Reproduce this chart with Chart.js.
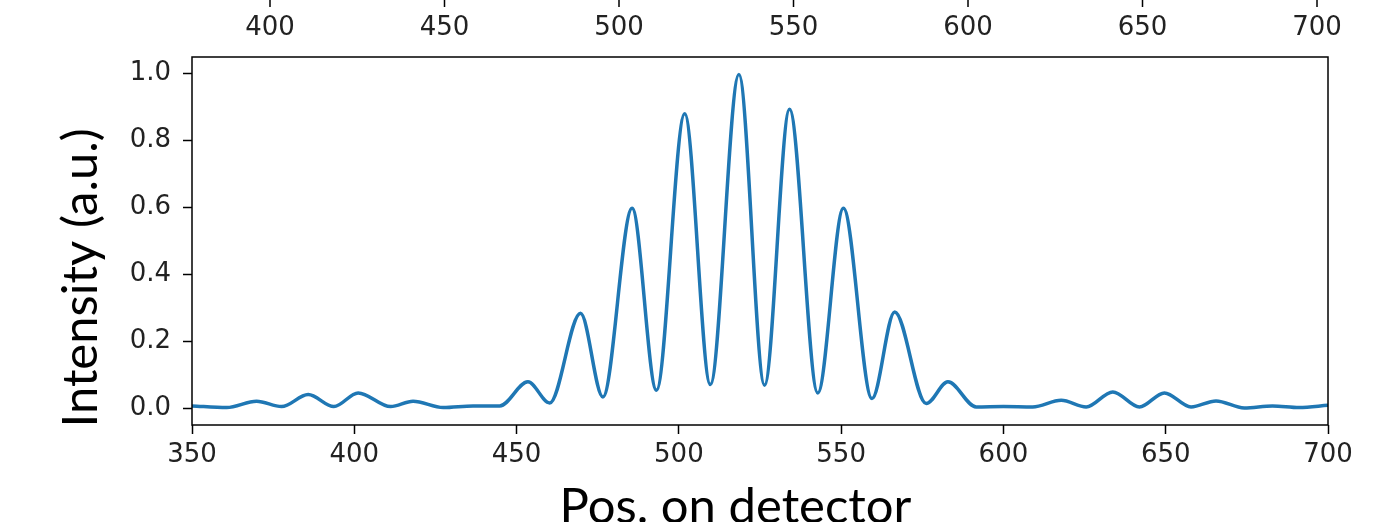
<!DOCTYPE html>
<html>
<head>
<meta charset="utf-8">
<script src="https://cdn.jsdelivr.net/npm/chart.js@4/dist/chart.umd.min.js"></script>
<style>
  html, body { margin: 0; padding: 0; background: #fff; overflow: hidden; }
  canvas { display: block; }
</style>
</head>
<body>
<canvas id="detectorChart" width="1400" height="545"></canvas>
<script>
// Positions on the detector and the intensity read at each (peaks, minima, flat parts)
const positions = [
    350, 360.7, 369.9, 377.6, 385.8, 393.7, 401.2, 411.2, 418.1, 427.4,
    436.6, 444.8, 453.5, 460.2, 469.7, 476.6, 485.6, 493.1, 501.8, 509.7,
    518.5, 526.4, 534.1, 542.8, 550.7, 559.5, 566.5, 576.2, 582.9, 591.6,
    600, 609, 617.8, 625.5, 633.7, 641.9, 649.6, 657.8, 665.5, 674.2,
    682.9, 691.1, 700
];
const intensity = [
    0.007, 0.002, 0.021, 0.005, 0.041, 0.005, 0.046, 0.005, 0.021, 0.002,
    0.007, 0.007, 0.079, 0.016, 0.284, 0.034, 0.598, 0.054, 0.880, 0.071,
    0.998, 0.069, 0.894, 0.046, 0.598, 0.029, 0.288, 0.014, 0.079, 0.004,
    0.005, 0.004, 0.024, 0.004, 0.049, 0.004, 0.046, 0.004, 0.022, 0.001,
    0.007, 0.002, 0.009
];

// Tick labels
const xTickValues = [350, 400, 450, 500, 550, 600, 650, 700];
const yTickValues = [0, 0.2, 0.4, 0.6, 0.8, 1.0];
const topTickValues = [400, 450, 500, 550, 600, 650, 700];

const CANVAS_H = 545;
const tickFont = { family: "'DejaVu Sans'", size: 26 };
const titleFont = { family: "Lato", size: 49 };

/**
 * Frame around the plot area
 */
const frame = {
    id: 'frame',
    afterDraw(chart) {
        const { ctx, chartArea: a } = chart;
        ctx.save();
        ctx.strokeStyle = '#000';
        ctx.lineWidth = 1.5;
        ctx.strokeRect(a.left, a.top, a.right - a.left, a.bottom - a.top);
        ctx.restore();
    }
};

/**
 * Tick marks of the cut-off axis above the plot
 */
const topTicks = {
    id: 'topTicks',
    afterDraw(chart) {
        const { ctx } = chart;
        const s = chart.scales.x2;
        ctx.save();
        ctx.strokeStyle = '#000';
        ctx.lineWidth = 1.5;
        ctx.beginPath();
        topTickValues.forEach(v => {
            const px = s.getPixelForValue(v);
            ctx.moveTo(px, 0);
            ctx.lineTo(px, 7);
        });
        ctx.stroke();
        ctx.restore();
    }
};

new Chart(document.getElementById('detectorChart'), {
    type: 'line',
    data: {
        datasets: [{
            data: positions.map((x, i) => ({ x: x, y: intensity[i] })),
            borderColor: '#1f77b4',
            borderWidth: 3.5,
            pointRadius: 0,
            fill: false,
            cubicInterpolationMode: 'monotone'
        }]
    },
    options: {
        responsive: false,
        animation: false,
        devicePixelRatio: 1,
        layout: { padding: { left: 0, right: 72, top: 0, bottom: 0 } },
        plugins: { legend: { display: false }, tooltip: { enabled: false } },
        scales: {
            x: {
                type: 'linear',
                position: 'bottom',
                min: 350,
                max: 700,
                afterBuildTicks(scale) { scale.ticks = xTickValues.map(v => ({ value: v })); },
                afterFit(scale) { scale.height = CANVAS_H - 425; },
                grid: { drawOnChartArea: false, drawTicks: true, tickLength: 9, tickColor: '#000', tickWidth: 1.5 },
                border: { display: false },
                ticks: { font: tickFont, color: '#222', padding: 6, maxRotation: 0 },
                title: {
                    display: true,
                    text: 'Pos. on detector\u2002\u2002',
                    font: titleFont,
                    color: '#000',
                    padding: { top: 0, bottom: 8 }
                }
            },
            x2: {
                type: 'linear',
                position: 'top',
                min: 377.65,
                max: 703.15,
                afterBuildTicks(scale) { scale.ticks = topTickValues.map(v => ({ value: v })); },
                afterFit(scale) { scale.height = 57; },
                grid: { display: false, drawTicks: false },
                border: { display: false },
                ticks: { font: tickFont, color: '#222', padding: 13, maxRotation: 0 }
            },
            y: {
                type: 'linear',
                min: -0.05,
                max: 1.05,
                afterBuildTicks(scale) { scale.ticks = yTickValues.map(v => ({ value: v })); },
                afterFit(scale) { scale.width = 192; },
                grid: { drawOnChartArea: false, drawTicks: true, tickLength: 9, tickColor: '#000', tickWidth: 1.5 },
                border: { display: false },
                ticks: {
                    font: tickFont,
                    color: '#222',
                    padding: 12,
                    callback: v => v.toFixed(1)
                },
                title: {
                    display: true,
                    text: 'Intensity (a.u.)\u2002\u2002\u2002',
                    font: titleFont,
                    color: '#000',
                    padding: { top: 52, bottom: 0 }
                }
            }
        }
    },
    plugins: [frame, topTicks]
});
</script>
</body>
</html>
